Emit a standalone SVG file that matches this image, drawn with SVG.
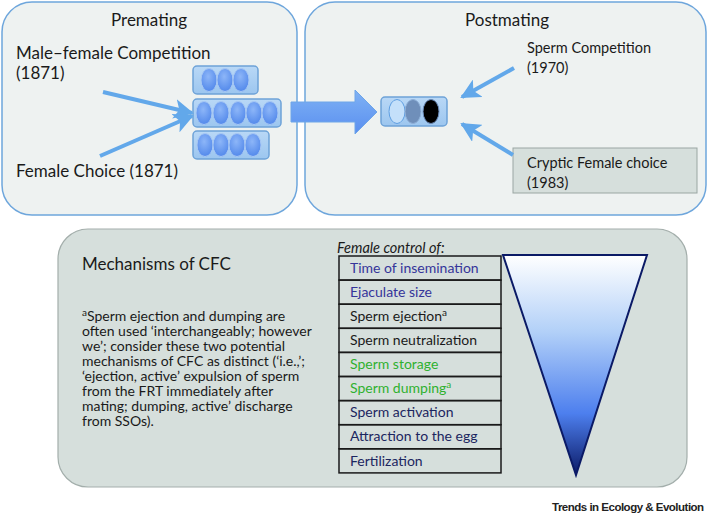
<svg xmlns="http://www.w3.org/2000/svg" width="709" height="521" viewBox="0 0 709 521">
<defs>
<style>
.t{font-family:Lato,"Open Sans","Liberation Sans",sans-serif;fill:#1a1a1a}
.h{font-size:17px}
.b{font-size:14.5px}
.fn{font-size:14px}
.tb{font-size:14px}
.panel{fill:#eef2f1;stroke:#6ea6dc;stroke-width:1.5}
.arr{stroke:#62a8ea;stroke-width:4;fill:none;stroke-linecap:butt}
.sbox{fill:url(#sboxg);stroke:#6ea3d8;stroke-width:1.5}
.ov{fill:url(#ovg);stroke:#a8c8f4;stroke-width:1}
.row{fill:none;stroke:#1a1a1a;stroke-width:1.5}
</style>
<linearGradient id="sboxg" x1="0" y1="0" x2="0" y2="1">
<stop offset="0" stop-color="#b9d8f6"/><stop offset="1" stop-color="#9cc6ef"/>
</linearGradient>
<radialGradient id="ovg" cx="0.45" cy="0.35" r="0.7">
<stop offset="0" stop-color="#8db6f8"/><stop offset="1" stop-color="#4f86ea"/>
</radialGradient>
<linearGradient id="trig" x1="0" y1="0" x2="0" y2="1">
<stop offset="0" stop-color="#ffffff"/><stop offset="0.35" stop-color="#b2d0f8"/><stop offset="0.72" stop-color="#4d7fee"/><stop offset="1" stop-color="#0b1a66"/>
</linearGradient>
<linearGradient id="bigarr" x1="0" y1="0" x2="0" y2="1">
<stop offset="0" stop-color="#7fb2f4"/><stop offset="1" stop-color="#5a8ff0"/>
</linearGradient>
<marker id="ah" viewBox="0 0 10 10" refX="9" refY="5" markerWidth="5" markerHeight="5" orient="auto" markerUnits="strokeWidth">
<path d="M0,0 L10,5 L0,10 L2.5,5 Z" fill="#62a8ea"/>
</marker>
</defs>

<g id="premating">
<rect class="panel" x="2" y="2" width="295" height="213" rx="30"/>
<text class="t h" x="149" y="26" text-anchor="middle">Premating</text>
<text class="t h" x="16" y="59">Male–female Competition</text>
<text class="t h" x="16" y="79">(1871)</text>
<text class="t h" x="16" y="177">Female Choice (1871)</text>
</g>

<g id="postmating">
<rect class="panel" x="305" y="2" width="401" height="213" rx="30"/>
<text class="t h" x="507" y="26" text-anchor="middle">Postmating</text>
<text class="t b" x="527" y="53">Sperm Competition</text>
<text class="t b" x="527" y="73">(1970)</text>
</g>

<g id="cryptic">
<rect x="513" y="148" width="184" height="45" fill="#d6dfdc" stroke="#9aa6a3" stroke-width="1"/>
<text class="t b" x="527" y="168">Cryptic Female choice</text>
<text class="t b" x="527" y="188">(1983)</text>
</g>

<g id="sperm-premating">
<rect class="sbox" x="193" y="66" width="65" height="28" rx="4"/>
<ellipse class="ov" cx="209" cy="80" rx="8" ry="11.5"/>
<ellipse class="ov" cx="225" cy="80" rx="8" ry="11.5"/>
<ellipse class="ov" cx="241" cy="80" rx="8" ry="11.5"/>
<rect class="sbox" x="193" y="99" width="88" height="28" rx="4"/>
<ellipse class="ov" cx="204" cy="113" rx="8" ry="11.5"/>
<ellipse class="ov" cx="221" cy="113" rx="8" ry="11.5"/>
<ellipse class="ov" cx="238" cy="113" rx="8" ry="11.5"/>
<ellipse class="ov" cx="254" cy="113" rx="8" ry="11.5"/>
<ellipse class="ov" cx="270" cy="113" rx="8" ry="11.5"/>
<rect class="sbox" x="193" y="131" width="76" height="28" rx="4"/>
<ellipse class="ov" cx="205" cy="145" rx="8" ry="11.5"/>
<ellipse class="ov" cx="221" cy="145" rx="8" ry="11.5"/>
<ellipse class="ov" cx="237" cy="145" rx="8" ry="11.5"/>
<ellipse class="ov" cx="253" cy="145" rx="8" ry="11.5"/>
</g>

<g id="sperm-postmating">
<rect class="sbox" x="381" y="97" width="66" height="29" rx="4"/>
<ellipse cx="397" cy="111.5" rx="8" ry="12" fill="#c4e0fa" stroke="#5f9fe2" stroke-width="1"/>
<ellipse cx="413" cy="111.5" rx="8" ry="12" fill="#6f8fba" stroke="#8fb0d8" stroke-width="1"/>
<ellipse cx="431" cy="111.5" rx="8" ry="12" fill="#000000" stroke="#6a8ab8" stroke-width="1"/>
</g>

<g id="connectors">
<line class="arr" x1="103" y1="92" x2="192" y2="113" marker-end="url(#ah)"/>
<line class="arr" x1="100" y1="156" x2="192" y2="116" marker-end="url(#ah)"/>
<line class="arr" x1="514" y1="68" x2="462" y2="97" marker-end="url(#ah)"/>
<line class="arr" x1="513" y1="155" x2="462" y2="124" marker-end="url(#ah)"/>
<path d="M291,102 L355,102 L355,90 L377,112 L355,134 L355,122 L291,122 Z" fill="url(#bigarr)" stroke="#6ea6e8" stroke-width="1"/>
</g>

<g id="mechanisms">
<rect x="58" y="229" width="629" height="258" rx="30" fill="#d6dfdc" stroke="#a3aeab" stroke-width="1.2"/>
<text class="t h" x="82" y="270">Mechanisms of CFC</text>
<text class="t fn">
<tspan x="82" y="321"><tspan font-size="10" dy="-5">a</tspan><tspan dy="5">Sperm ejection and dumping are</tspan></tspan>
<tspan x="82" y="336">often used ‘interchangeably; however</tspan>
<tspan x="82" y="351">we’; consider these two potential</tspan>
<tspan x="82" y="366">mechanisms of CFC as distinct (‘i.e.,’;</tspan>
<tspan x="82" y="381">‘ejection, active’ expulsion of sperm</tspan>
<tspan x="82" y="396">from the FRT immediately after</tspan>
<tspan x="82" y="411">mating; dumping,  active’ discharge</tspan>
<tspan x="82" y="426">from SSOs).</tspan>
</text>
</g>

<g id="female-control">
<text class="t" x="337" y="253" font-size="14.5" font-style="italic">Female control of:</text>
<rect class="row" x="339" y="256" width="162" height="24.1"/>
<rect class="row" x="339" y="280.1" width="162" height="24.1"/>
<rect class="row" x="339" y="304.2" width="162" height="24.1"/>
<rect class="row" x="339" y="328.3" width="162" height="24.1"/>
<rect class="row" x="339" y="352.4" width="162" height="24.1"/>
<rect class="row" x="339" y="376.5" width="162" height="24.1"/>
<rect class="row" x="339" y="400.6" width="162" height="24.1"/>
<rect class="row" x="339" y="424.7" width="162" height="24.1"/>
<rect class="row" x="339" y="448.8" width="162" height="24.1"/>
<text class="t tb" x="350" y="273" style="fill:#35359a">Time of insemination</text>
<text class="t tb" x="350" y="297" style="fill:#35359a">Ejaculate size</text>
<text class="t tb" x="350" y="321">Sperm ejection<tspan font-size="10" dy="-5">a</tspan></text>
<text class="t tb" x="350" y="345">Sperm neutralization</text>
<text class="t tb" x="350" y="369" style="fill:#2fb12f">Sperm storage</text>
<text class="t tb" x="350" y="393" style="fill:#2fb12f">Sperm dumping<tspan font-size="10" dy="-5">a</tspan></text>
<text class="t tb" x="350" y="417" style="fill:#1c2660">Sperm activation</text>
<text class="t tb" x="350" y="441" style="fill:#1c2660">Attraction to the egg</text>
<text class="t tb" x="350" y="466" style="fill:#1c2660">Fertilization</text>
</g>

<g id="triangle">
<polygon points="503,255 647,255 576,475" fill="url(#trig)" stroke="#0b1a66" stroke-width="2" stroke-linejoin="miter"/>
</g>

<text x="552" y="511" font-family="Liberation Sans,Arial,sans-serif" font-weight="bold" font-size="11.5" letter-spacing="-0.5" fill="#222">Trends in Ecology &amp; Evolution</text>
</svg>
